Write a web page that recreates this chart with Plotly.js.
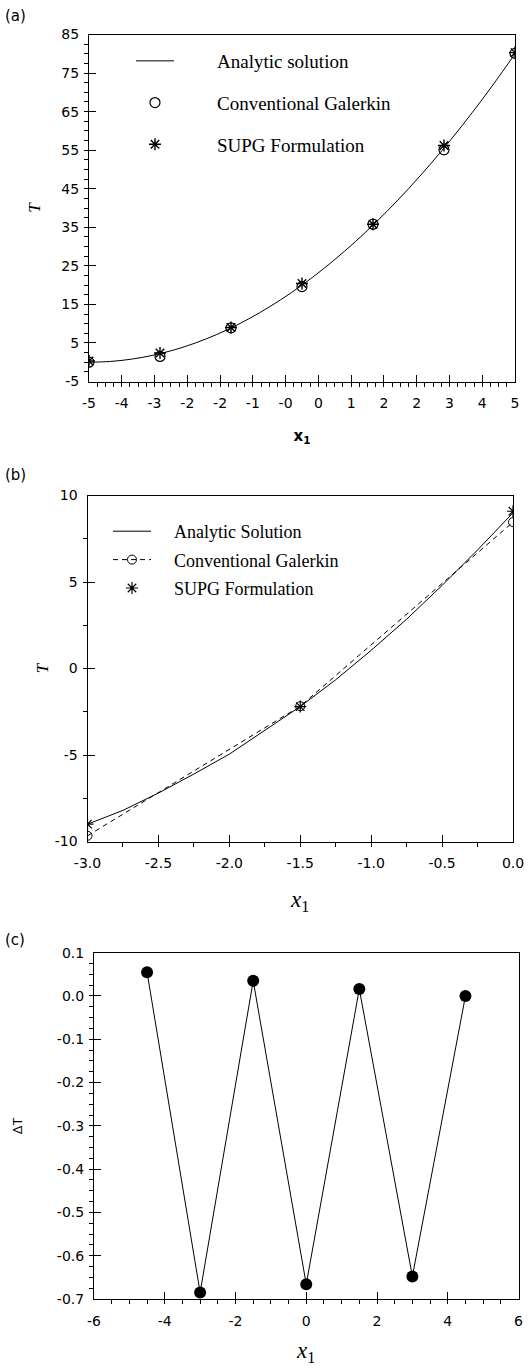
<!DOCTYPE html>
<html><head><meta charset="utf-8">
<script src="https://cdn.plot.ly/plotly-3.0.1.min.js"></script>
<style>html,body{margin:0;padding:0;background:#fff;}#chart{width:532px;height:1370px;}</style>
</head><body><div id="chart"></div>
<script>
// ---------- Panel (a) ----------
const aAnalyticX = [-5,-4.5,-4,-3.5,-3,-2.5,-2,-1.5,-1,-0.5,0,0.5,1,1.5,2,2.5,3,3.5,4,4.5,5];
const aAnalyticT = [0,0.2,0.8,1.8,3.2,5,7.2,9.8,12.8,16.2,20,24.2,28.8,33.8,39.2,45,51.2,57.8,64.8,72.2,80];
const aNodeX = [-5,-3.333,-1.667,0,1.667,3.333,5];
const aGalerkinT = [0.0,1.5,8.9,19.6,35.8,55.1,80.1];
const aSupgT = [0.3,2.4,9.0,20.4,35.8,56.2,80.3];
const aXTickVals = [-5,-4.231,-3.462,-2.692,-1.923,-1.154,-0.385,0.385,1.154,1.923,2.692,3.462,4.231,5];
const aXTickText = ["-5","-4","-3","-2","-2","-1","-0","0","1","2","2","3","4","5"];
const aYTickVals = [-5,5,15,25,35,45,55,65,75,85];
const aYTickText = ["-5","5","15","25","35","45","55","65","75","85"];
const aNames = ["Analytic solution","Conventional Galerkin","SUPG Formulation"];

// ---------- Panel (b) ----------
const bAnalyticX = [-3,-2.75,-2.5,-2.25,-2,-1.75,-1.5,-1.25,-1,-0.75,-0.5,-0.25,0];
const bAnalyticT = [-9.0,-8.2,-7.2,-6.1,-4.95,-3.6,-2.2,-0.65,1.05,2.85,4.8,6.85,9.0];
const bNodeX = [-3,-1.5,0];
const bGalerkinT = [-9.67,-2.18,8.46];
const bSupgT = [-9.0,-2.2,9.09];
const bXTickVals = [-3,-2.5,-2,-1.5,-1,-0.5,0];
const bXTickText = ["-3.0","-2.5","-2.0","-1.5","-1.0","-0.5","0.0"];
const bYTickVals = [-10,-5,0,5,10];
const bYTickText = ["-10","-5","0","5","10"];
const bNames = ["Analytic Solution","Conventional Galerkin","SUPG Formulation"];

// ---------- Panel (c) ----------
const cX = [-4.5,-3,-1.5,0,1.5,3,4.5];
const cDeltaT = [0.055,-0.685,0.035,-0.666,0.016,-0.648,0.0];
const cXTickVals = [-6,-4,-2,0,2,4,6];
const cXTickText = ["-6","-4","-2","0","2","4","6"];
const cYTickVals = [-0.7,-0.6,-0.5,-0.4,-0.3,-0.2,-0.1,0,0.1];
const cYTickText = ["-0.7","-0.6","-0.5","-0.4","-0.3","-0.2","-0.1","0.0","0.1"];

const W = 532, H = 1370;
const px = v => v / W;
const py = v => 1 - v / H;
const pad = (n, s) => "\u00a0".repeat(n) + s;

const tickFont = {family: "DejaVu Sans", size: 14, color: "#000"};
const serif = "Liberation Serif";

const traces = [
  {x: aAnalyticX, y: aAnalyticT, xaxis: "x", yaxis: "y", mode: "lines", line: {color: "#000", width: 1, shape: "spline"},
   name: pad(8, aNames[0]), legend: "legend", legendgroup: "a1"},
  {x: aNodeX, y: aGalerkinT, xaxis: "x", yaxis: "y", mode: "markers",
   marker: {symbol: "circle-open", size: 10, color: "#000", line: {width: 1.2}},
   name: pad(8, aNames[1]), legend: "legend", legendgroup: "a2"},
  {x: aNodeX, y: aSupgT, xaxis: "x", yaxis: "y", mode: "markers",
   marker: {symbol: "asterisk-open", size: 10, color: "#000", line: {width: 1.4, color: "#000"}},
   name: pad(8, aNames[2]), legend: "legend", legendgroup: "a3"},

  {x: bAnalyticX, y: bAnalyticT, xaxis: "x2", yaxis: "y2", mode: "lines", line: {color: "#000", width: 1},
   name: pad(4, bNames[0]), legend: "legend2", legendgroup: "b1"},
  {x: bNodeX, y: bGalerkinT, xaxis: "x2", yaxis: "y2", mode: "lines+markers",
   line: {color: "#000", width: 1, dash: "5px,4px"},
   marker: {symbol: "circle-open", size: 9, color: "#000", line: {width: 1}},
   name: pad(4, bNames[1]), legend: "legend2", legendgroup: "b2"},
  {x: bNodeX, y: bSupgT, xaxis: "x2", yaxis: "y2", mode: "markers",
   marker: {symbol: "asterisk-open", size: 10, color: "#000", line: {width: 1.2, color: "#000"}},
   name: pad(4, bNames[2]), legend: "legend2", legendgroup: "b3"},

  {x: cX, y: cDeltaT, xaxis: "x3", yaxis: "y3", mode: "lines+markers",
   line: {color: "#000", width: 1}, marker: {symbol: "circle", size: 12, color: "#000"},
   showlegend: false}
];

const baseAxis = {
  showline: true, linecolor: "#000", linewidth: 1, mirror: true,
  ticks: "inside", tickcolor: "#000", ticklen: 7, tickwidth: 1,
  showgrid: false, zeroline: false, tickfont: tickFont, ticklabelstandoff: 6,
  fixedrange: true, tickmode: "array"
};

const layout = {
  width: W, height: H,
  margin: {l: 0, r: 0, t: 0, b: 0},
  paper_bgcolor: "#fff", plot_bgcolor: "#fff",
  font: {family: "DejaVu Sans", color: "#000"},
  showlegend: true,
  xaxis: Object.assign({}, baseAxis, {
    domain: [px(89), px(515)], anchor: "y", range: [-5, 5],
    tickvals: aXTickVals, ticktext: aXTickText, ticklabelstandoff: 9,
    minor: {tickmode: "linear", tick0: -5, dtick: 0.1923, ticklen: 4, tickcolor: "#000"},
    title: {text: "<b>x<sub>1</sub></b>", font: {family: "DejaVu Sans", size: 15}, standoff: 20}
  }),
  yaxis: Object.assign({}, baseAxis, {
    domain: [py(381.5), py(34.5)], anchor: "x", range: [-5, 85],
    tickvals: aYTickVals, ticktext: aYTickText,
    minor: {tickmode: "linear", tick0: -5, dtick: 2.5, ticklen: 4, tickcolor: "#000"},
    title: {text: "<i>T</i>", font: {family: serif, size: 17}, standoff: 16}
  }),
  xaxis2: Object.assign({}, baseAxis, {
    domain: [px(87.5), px(513)], anchor: "y2", range: [-3, 0],
    tickvals: bXTickVals, ticktext: bXTickText, ticklabelstandoff: 9,
    minor: {tickmode: "linear", tick0: -3, dtick: 0.25, ticklen: 4, tickcolor: "#000"},
    title: {text: "<i>x</i><sub>1</sub>", font: {family: serif, size: 23}, standoff: 20}
  }),
  yaxis2: Object.assign({}, baseAxis, {
    domain: [py(841.5), py(495.5)], anchor: "x2", range: [-10, 10],
    tickvals: bYTickVals, ticktext: bYTickText,
    minor: {tickmode: "linear", tick0: -10, dtick: 2.5, ticklen: 4, tickcolor: "#000"},
    title: {text: "<i>T</i>", font: {family: serif, size: 17}, standoff: 1}
  }),
  xaxis3: Object.assign({}, baseAxis, {
    domain: [px(94), px(518.5)], anchor: "y3", range: [-6, 6],
    tickvals: cXTickVals, ticktext: cXTickText, ticklabelstandoff: 9,
    minor: {tickmode: "linear", tick0: -6, dtick: 0.5, ticklen: 4, tickcolor: "#000"},
    title: {text: "<i>x</i><sub>1</sub>", font: {family: serif, size: 23}, standoff: 14}
  }),
  yaxis3: Object.assign({}, baseAxis, {
    domain: [py(1299), py(952.7)], anchor: "x3", range: [-0.7, 0.1],
    tickvals: cYTickVals, ticktext: cYTickText,
    minor: {tickmode: "linear", tick0: -0.7, dtick: 0.025, ticklen: 4, tickcolor: "#000"},
    title: {text: "ΔT", font: {family: "Liberation Sans", size: 13}, standoff: 31}
  }),
  legend: {
    x: px(131), y: py(42), xanchor: "left", yanchor: "top",
    font: {family: serif, size: 19, color: "#000"}, bgcolor: "rgba(0,0,0,0)",
    borderwidth: 0, itemwidth: 38, traceorder: "grouped", tracegroupgap: 14
  },
  legend2: {
    x: px(108), y: py(513), xanchor: "left", yanchor: "top",
    font: {family: serif, size: 18, color: "#000"}, bgcolor: "rgba(0,0,0,0)",
    borderwidth: 0, itemwidth: 38, traceorder: "grouped", tracegroupgap: 2
  },
  annotations: [
    {text: "(a)", xref: "paper", yref: "paper", x: px(3), y: py(16), xanchor: "left", yanchor: "middle", showarrow: false, font: {family: "DejaVu Sans", size: 15}},
    {text: "(b)", xref: "paper", yref: "paper", x: px(3), y: py(475), xanchor: "left", yanchor: "middle", showarrow: false, font: {family: "DejaVu Sans", size: 15}},
    {text: "(c)", xref: "paper", yref: "paper", x: px(3), y: py(940), xanchor: "left", yanchor: "middle", showarrow: false, font: {family: "DejaVu Sans", size: 15}}
  ]
};

Plotly.newPlot("chart", traces, layout, {displayModeBar: false, staticPlot: true});
</script>
</body></html>
